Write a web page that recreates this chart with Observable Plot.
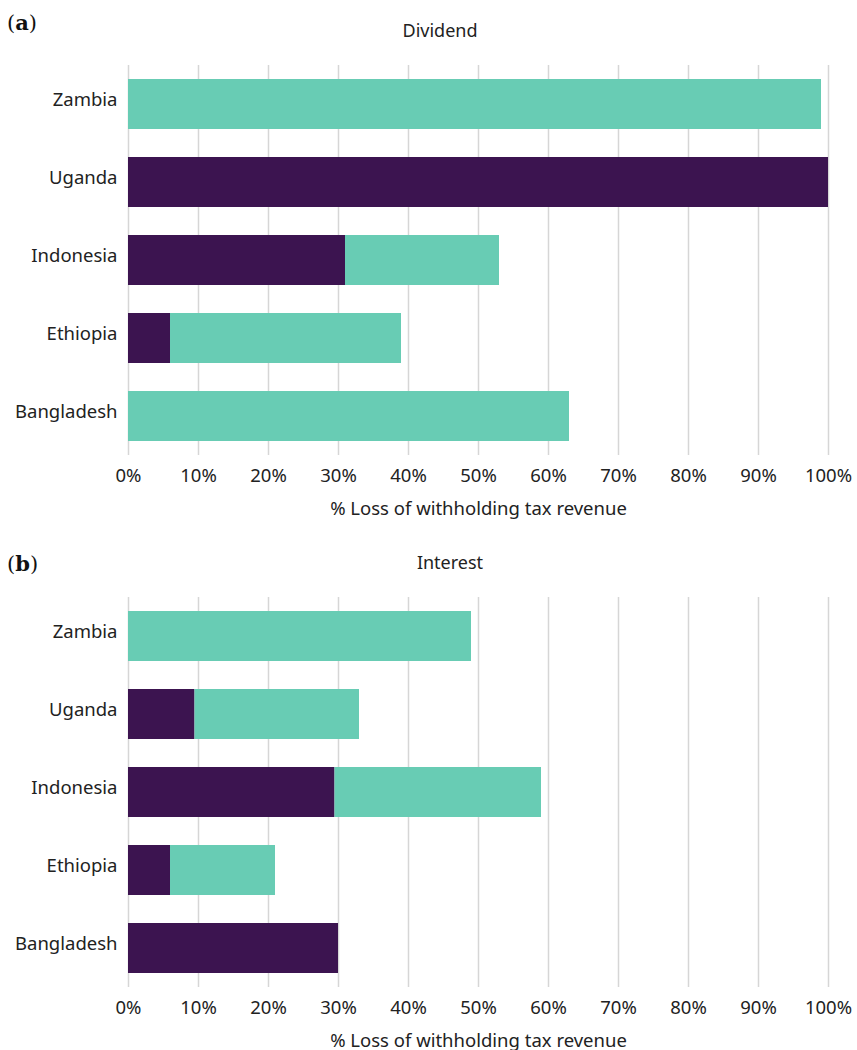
<!DOCTYPE html>
<html>
<head>
<meta charset="utf-8">
<script src="https://cdn.jsdelivr.net/npm/d3@7"></script>
<script src="https://cdn.jsdelivr.net/npm/@observablehq/plot@0.6"></script>
<style>
  html, body { margin: 0; padding: 0; background: #fff; overflow: hidden; }
  body { width: 857px; height: 1050px; font-family: "Noto Sans", sans-serif; color: #222; }
  .panel { position: relative; width: 857px; height: 532px; }
  .tag { position: absolute; left: 7px; font-size: 21px; font-family: "DejaVu Serif", serif; color: #111; line-height: 1; }
  .title { position: absolute; width: 300px; text-align: center; font-size: 18px; color: #222; line-height: 1; }
  .panel svg { position: absolute; left: 0; top: 0; }
</style>
</head>
<body>
<div id="chart"></div>
<script>
// Categories (top to bottom)
const countries = ["Zambia", "Uganda", "Indonesia", "Ethiopia", "Bangladesh"];
const segments = ["Dark segment", "Teal segment"];
const segmentColors = ["#3c1450", "#68ccb4"];

// Panel (a) Dividend — % loss of withholding tax revenue
const dividendDark = [0, 100, 31, 6, 0];
const dividendTeal = [99, 0, 22, 33, 63];

// Panel (b) Interest
const interestDark = [0, 9.5, 29.5, 6, 30];
const interestTeal = [49, 23.5, 29.5, 15, 0];

const xTicks = [0, 10, 20, 30, 40, 50, 60, 70, 80, 90, 100];
const xLabel = "% Loss of withholding tax revenue";

const panels = [
  {tag: "a", title: "Dividend", dark: dividendDark, teal: dividendTeal, tagTop: 12, titleCenter: 440},
  {tag: "b", title: "Interest", dark: interestDark, teal: interestTeal, tagTop: 21, titleCenter: 450}
];

const root = document.getElementById("chart");

for (const p of panels) {
  const rows = [];
  countries.forEach((c, i) => {
    rows.push({country: c, segment: segments[0], value: p.dark[i]});
  });
  countries.forEach((c, i) => {
    rows.push({country: c, segment: segments[1], value: p.teal[i]});
  });

  const plot = Plot.plot({
    width: 857,
    height: 532,
    marginLeft: 128,
    marginRight: 29,
    marginTop: 65,
    marginBottom: 77,
    style: {fontFamily: "Noto Sans, sans-serif", fontSize: "18.5px", color: "#222", background: "transparent"},
    x: {domain: [0, 100], ticks: xTicks, tickFormat: d => d + "%", label: null},
    y: {domain: countries, paddingInner: 0.36, paddingOuter: 0.18, label: null},
    color: {domain: segments, range: segmentColors},
    marks: [
      Plot.gridX(xTicks, {stroke: "#d6d6d6", strokeOpacity: 1, strokeWidth: 1.5}),
      Plot.barX(rows, {x: "value", y: "country", fill: "segment", order: segments}),
      Plot.axisX({ticks: xTicks, tickFormat: d => d + "%", tickSize: 0, tickPadding: 13, fontSize: 18.5, label: null}),
      Plot.axisY({tickSize: 0, tickPadding: 11, fontSize: 18.5, dy: -4, label: null}),
      Plot.text([xLabel], {frameAnchor: "bottom", dy: 59, fontSize: 18.5, fill: "#222"})
    ]
  });

  const panel = document.createElement("div");
  panel.className = "panel";
  panel.appendChild(plot);
  const tag = document.createElement("div");
  tag.className = "tag";
  tag.style.top = p.tagTop + "px";
  tag.innerHTML = "(<b>" + p.tag + "</b>)";
  panel.appendChild(tag);
  const title = document.createElement("div");
  title.className = "title";
  title.style.left = (p.titleCenter - 150) + "px";
  title.style.top = "21px";
  title.textContent = p.title;
  panel.appendChild(title);
  root.appendChild(panel);
}
</script>
</body>
</html>
